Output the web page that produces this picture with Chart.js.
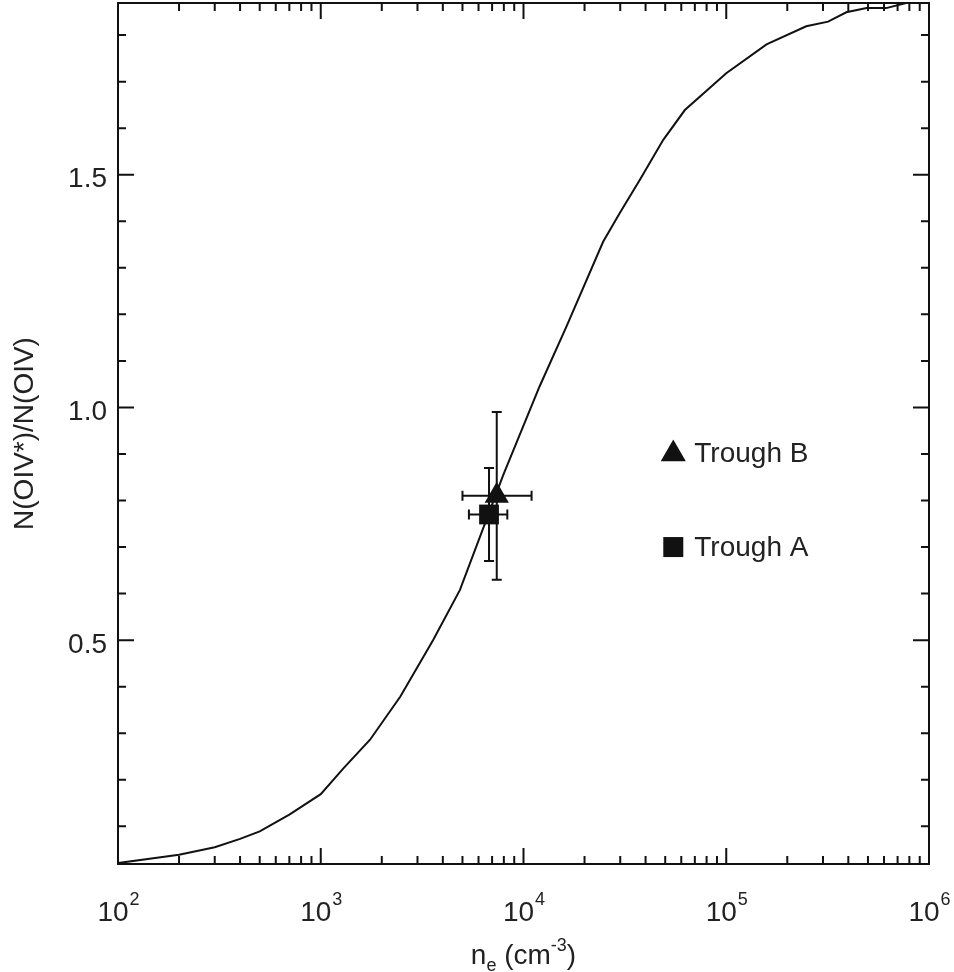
<!DOCTYPE html>
<html>
<head>
<meta charset="utf-8">
<script src="https://cdn.jsdelivr.net/npm/chart.js@4.4.1/dist/chart.umd.min.js"></script>
<style>
	html, body { margin: 0; padding: 0; background: #fff; }
</style>
</head>
<body>
<canvas id="chart" width="954" height="972"></canvas>
<script>
// 이론 곡선: n_e 와 N(OIV*)/N(OIV)
const density = [100, 200, 300, 400, 500, 700, 1000, 1290, 1750, 2470, 3590, 4860, 6460, 7950,
	12000, 16300, 24700, 29800, 37500, 48900, 62500, 100000, 158000, 248000, 318000, 391000,
	492000, 615000, 772000, 1000000];
const ratio = [0.021, 0.039, 0.055, 0.073, 0.089, 0.125, 0.169, 0.224, 0.286, 0.379, 0.501, 0.608, 0.751, 0.855,
	1.045, 1.174, 1.356, 1.417, 1.489, 1.575, 1.639, 1.718, 1.780, 1.819, 1.829, 1.849,
	1.858, 1.858, 1.869, 1.875];

// 관측값 (Trough A, Trough B)
const troughNames = ['Trough A', 'Trough B'];
const troughNe = [6760, 7380];
const troughNeLow = [5380, 5000];
const troughNeHigh = [8320, 10960];
const troughRatio = [0.77, 0.81];
const troughRatioLow = [0.67, 0.63];
const troughRatioHigh = [0.87, 0.99];

// 범례 위치 (데이터 좌표)
const legendNe = 54800;
const legendRatio = [0.70, 0.90];

// 눈금
const xTickExp = [2, 3, 4, 5, 6];
const yTickLabels = [0.5, 1.0, 1.5];
const yMinorTicks = [0.1, 0.2, 0.3, 0.4, 0.6, 0.7, 0.8, 0.9, 1.1, 1.2, 1.3, 1.4, 1.6, 1.7, 1.8];

const FONT = "'Liberation Sans', Helvetica, Arial, sans-serif";
const INK = '#111';

function drawTriangle(ctx, x, y, r) {
	ctx.beginPath();
	ctx.moveTo(x, y - r);
	ctx.lineTo(x + Math.sin(2 * Math.PI / 3) * r, y + r / 2);
	ctx.lineTo(x - Math.sin(2 * Math.PI / 3) * r, y + r / 2);
	ctx.closePath();
	ctx.fill();
}

// 테두리, 안쪽 눈금, 오차막대, 범례, 축 제목
const framePlugin = {
	id: 'framePlugin',
	beforeDatasetsDraw(chart) {
		const ctx = chart.ctx;
		const xs = chart.scales.x;
		const ys = chart.scales.y;
		ctx.save();
		ctx.strokeStyle = INK;
		ctx.lineWidth = 2;
		const cap = 5;
		for (let i = 0; i < troughNe.length; i++) {
			const cx = xs.getPixelForValue(troughNe[i]);
			const cy = ys.getPixelForValue(troughRatio[i]);
			const x0 = xs.getPixelForValue(troughNeLow[i]);
			const x1 = xs.getPixelForValue(troughNeHigh[i]);
			const y0 = ys.getPixelForValue(troughRatioLow[i]);
			const y1 = ys.getPixelForValue(troughRatioHigh[i]);
			ctx.beginPath();
			ctx.moveTo(x0, cy); ctx.lineTo(x1, cy);
			ctx.moveTo(x0, cy - cap); ctx.lineTo(x0, cy + cap);
			ctx.moveTo(x1, cy - cap); ctx.lineTo(x1, cy + cap);
			ctx.moveTo(cx, y0); ctx.lineTo(cx, y1);
			ctx.moveTo(cx - cap, y0); ctx.lineTo(cx + cap, y0);
			ctx.moveTo(cx - cap, y1); ctx.lineTo(cx + cap, y1);
			ctx.stroke();
		}
		ctx.restore();
	},
	afterDraw(chart) {
		const ctx = chart.ctx;
		const area = chart.chartArea;
		const xs = chart.scales.x;
		const ys = chart.scales.y;
		ctx.save();
		ctx.strokeStyle = INK;
		ctx.fillStyle = INK;
		ctx.lineWidth = 2;
		ctx.strokeRect(area.left, area.top, area.right - area.left, area.bottom - area.top);

		// x 눈금 (위, 아래)
		ctx.beginPath();
		xTickExp.forEach(function(e, k) {
			const major = xs.getPixelForValue(Math.pow(10, e));
			ctx.moveTo(major, area.bottom); ctx.lineTo(major, area.bottom - 16);
			ctx.moveTo(major, area.top); ctx.lineTo(major, area.top + 16);
			if (k === xTickExp.length - 1) return;
			for (let m = 2; m <= 9; m++) {
				const px = xs.getPixelForValue(m * Math.pow(10, e));
				ctx.moveTo(px, area.bottom); ctx.lineTo(px, area.bottom - 8);
				ctx.moveTo(px, area.top); ctx.lineTo(px, area.top + 8);
			}
		});
		// y 눈금 (왼쪽, 오른쪽)
		yTickLabels.forEach(function(v) {
			const py = ys.getPixelForValue(v);
			ctx.moveTo(area.left, py); ctx.lineTo(area.left + 16, py);
			ctx.moveTo(area.right, py); ctx.lineTo(area.right - 16, py);
		});
		yMinorTicks.forEach(function(v) {
			const py = ys.getPixelForValue(v);
			ctx.moveTo(area.left, py); ctx.lineTo(area.left + 8, py);
			ctx.moveTo(area.right, py); ctx.lineTo(area.right - 8, py);
		});
		ctx.stroke();

		// x 눈금 라벨 10^n
		ctx.fillStyle = '#222';
		ctx.textBaseline = 'alphabetic';
		ctx.textAlign = 'left';
		xTickExp.forEach(function(e) {
			const px = xs.getPixelForValue(Math.pow(10, e));
			ctx.font = '28px ' + FONT;
			const w1 = ctx.measureText('10').width;
			ctx.font = '18px ' + FONT;
			const w2 = ctx.measureText(String(e)).width;
			const sx = px - (w1 + w2) / 2;
			ctx.font = '28px ' + FONT;
			ctx.fillText('10', sx, 921);
			ctx.font = '18px ' + FONT;
			ctx.fillText(String(e), sx + w1 + 1, 905);
		});

		// x 축 제목 n_e (cm^-3)
		const parts = [
			{ t: 'n', size: 28, dy: 0 },
			{ t: 'e', size: 18, dy: 7 },
			{ t: ' (cm', size: 28, dy: 0 },
			{ t: '-3', size: 18, dy: -13 },
			{ t: ')', size: 28, dy: 0 }
		];
		let total = 0;
		parts.forEach(function(p) {
			ctx.font = p.size + 'px ' + FONT;
			p.w = ctx.measureText(p.t).width;
			total += p.w;
		});
		let tx = (area.left + area.right) / 2 - total / 2;
		parts.forEach(function(p) {
			ctx.font = p.size + 'px ' + FONT;
			ctx.fillText(p.t, tx, 964 + p.dy);
			tx += p.w;
		});

		// 범례
		const lx = xs.getPixelForValue(legendNe);
		const ya = ys.getPixelForValue(legendRatio[0]);
		const yb = ys.getPixelForValue(legendRatio[1]);
		ctx.fillStyle = INK;
		ctx.fillRect(lx - 10, ya - 10, 20, 20);
		drawTriangle(ctx, lx, yb, 14.5);
		ctx.fillStyle = '#222';
		ctx.font = '28px ' + FONT;
		ctx.textBaseline = 'middle';
		ctx.fillText(troughNames[0], lx + 21, ya + 1);
		ctx.fillText(troughNames[1], lx + 21, yb);
		ctx.restore();
	}
};

document.addEventListener('DOMContentLoaded', function() {
	const ctx = document.getElementById('chart').getContext('2d');
	const curve = density.map(function(n, i) { return { x: n, y: ratio[i] }; });

	new Chart(ctx, {
		type: 'scatter',
		data: {
			datasets: [
				{
					label: 'model',
					data: curve,
					showLine: true,
					borderColor: INK,
					borderWidth: 2,
					pointRadius: 0,
					tension: 0
				},
				{
					label: troughNames[0],
					data: [{ x: troughNe[0], y: troughRatio[0] }],
					pointStyle: 'rect',
					pointRadius: 14,
					backgroundColor: INK,
					borderWidth: 0
				},
				{
					label: troughNames[1],
					data: [{ x: troughNe[1], y: troughRatio[1] }],
					pointStyle: 'triangle',
					pointRadius: 14,
					backgroundColor: INK,
					borderWidth: 0
				}
			]
		},
		options: {
			responsive: false,
			animation: false,
			layout: { autoPadding: false, padding: { top: 3, right: 25, left: 0, bottom: 0 } },
			plugins: {
				legend: { display: false },
				tooltip: { enabled: false }
			},
			scales: {
				x: {
					type: 'logarithmic',
					min: 100,
					max: 1000000,
					grid: { display: false, drawTicks: false },
					border: { display: false },
					ticks: { display: false },
					afterFit: function(scale) {
						scale.height = 108;
						scale.paddingLeft = 0;
						scale.paddingRight = 0;
					}
				},
				y: {
					type: 'linear',
					min: 0.019,
					max: 1.869,
					grid: { display: false, drawTicks: false },
					border: { display: false },
					afterBuildTicks: function(scale) {
						scale.ticks = yTickLabels.map(function(v) { return { value: v }; });
					},
					ticks: {
						padding: 11,
						labelOffset: 5,
						color: '#222',
						font: { family: FONT, size: 28 },
						callback: function(v) { return Number(v).toFixed(1); }
					},
					title: {
						display: true,
						text: 'N(OIV*)/N(OIV)',
						color: '#222',
						font: { family: FONT, size: 28 },
						padding: { top: 8, bottom: 0 }
					},
					afterFit: function(scale) {
						scale.width = 118;
						scale.paddingTop = 0;
						scale.paddingBottom = 0;
					}
				}
			}
		},
		plugins: [framePlugin]
	});
});
</script>
</body>
</html>
